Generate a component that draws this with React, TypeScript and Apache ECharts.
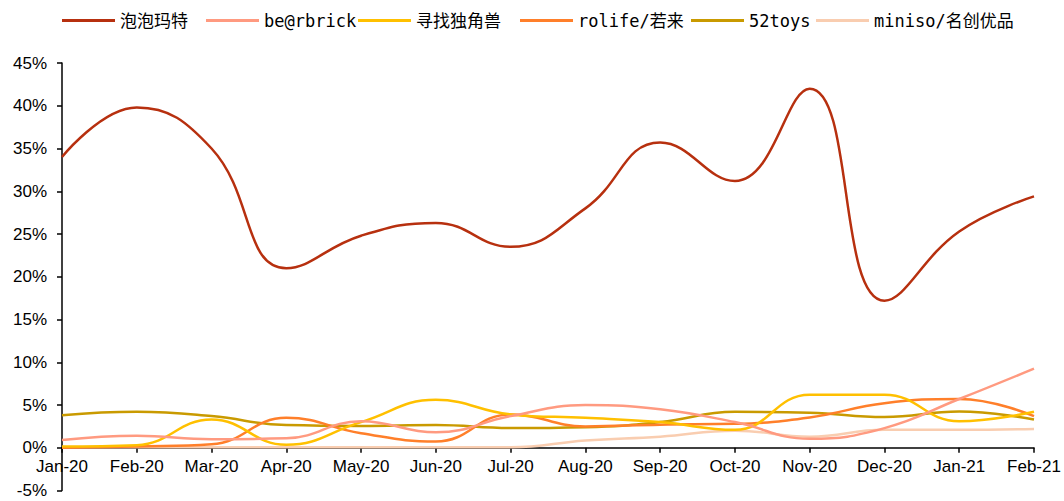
import React, { useEffect, useRef } from "react";
import * as echarts from "echarts";

const categories = ["Jan-20","Feb-20","Mar-20","Apr-20","May-20","Jun-20","Jul-20","Aug-20","Sep-20","Oct-20","Nov-20","Dec-20","Jan-21","Feb-21"];

const seriesNames = ["泡泡玛特", "be@rbrick", "寻找独角兽", "rolife/若来", "52toys", "miniso/名创优品"];

const popmart = [34.0, 39.8, 35.0, 21.0, 24.8, 26.3, 23.5, 28.0, 35.7, 31.2, 42.0, 17.2, 25.3, 29.4];
const bearbrick = [0.9, 1.4, 1.0, 1.1, 3.1, 1.8, 3.7, 5.0, 4.5, 3.0, 1.05, 2.3, 5.7, 9.25];
const unicorn = [0.15, 0.3, 3.3, 0.35, 3.0, 5.6, 3.9, 3.5, 3.0, 2.1, 6.2, 6.2, 3.1, 4.2];
const rolife = [0.0, 0.15, 0.4, 3.5, 1.7, 0.73, 3.9, 2.5, 2.7, 2.8, 3.55, 5.2, 5.7, 3.7];
const toys52 = [3.8, 4.2, 3.7, 2.65, 2.55, 2.65, 2.3, 2.4, 3.0, 4.2, 4.1, 3.6, 4.25, 3.3];
const miniso = [0.05, 0.05, 0.05, 0.05, 0.05, 0.05, 0.05, 0.86, 1.3, 2.0, 1.3, 2.1, 2.1, 2.2];

const seriesValues = [popmart, bearbrick, unicorn, rolife, toys52, miniso];
const colors = ["#B7300F", "#FF9A80", "#FFC000", "#FF7F2A", "#C99A00", "#F9CDB0"];
const legendLeft = [57, 201, 353, 515, 686, 811];

const Y_MIN = -5;
const Y_MAX = 45;
const GRID_TOP = 63;
const GRID_BOTTOM = 10.5;
const HEIGHT = 501;

export default function App() {
  const ref = useRef<HTMLDivElement>(null);
  useEffect(() => {
    if (!ref.current) return;
    const chart = echarts.init(ref.current, undefined, { renderer: "svg" });
    const axisFont = "'Liberation Sans', Arial, sans-serif";
    const plotH = HEIGHT - GRID_TOP - GRID_BOTTOM;
    const zeroOffset = -((0 - Y_MIN) / (Y_MAX - Y_MIN)) * plotH;
    chart.setOption({
      animation: false,
      backgroundColor: "#fff",
      legend: seriesNames.map((n, i) => ({
        data: [n],
        left: legendLeft[i],
        top: 7,
        icon: "rect",
        itemWidth: 53,
        itemHeight: 3,
        itemGap: 6,
        textStyle: {
          fontSize: 17,
          color: "#000",
          fontFamily: "'DejaVu Sans Mono', 'Noto Sans CJK SC', monospace",
        },
      })),
      grid: { left: 62, right: 30, top: GRID_TOP, bottom: GRID_BOTTOM, containLabel: false, outerBoundsMode: "none" },
      xAxis: {
        type: "category",
        data: categories,
        boundaryGap: false,
        offset: zeroOffset,
        axisLine: { onZero: false, lineStyle: { color: "#000", width: 1.5 } },
        axisTick: { show: true, length: 5, lineStyle: { color: "#000", width: 1.5 } },
        axisLabel: { color: "#000", fontSize: 17, fontFamily: axisFont, margin: 10, interval: 0 },
        splitLine: { show: false },
      },
      yAxis: {
        type: "value",
        min: Y_MIN,
        max: Y_MAX,
        interval: 5,
        axisLine: { show: true, lineStyle: { color: "#000", width: 1.5 } },
        axisTick: { show: true, length: 5, lineStyle: { color: "#000", width: 1.5 } },
        axisLabel: { color: "#000", fontSize: 17, fontFamily: axisFont, margin: 15, formatter: "{value}%" },
        splitLine: { show: false },
      },
      series: seriesNames.map((n, i) => ({
        name: n,
        type: "line",
        data: seriesValues[i],
        smooth: 0.45,
        showSymbol: false,
        symbol: "none",
        color: colors[i],
        lineStyle: { width: 2.5, color: colors[i] },
        z: 10 - i,
      })),
    });
    return () => chart.dispose();
  }, []);
  return <div ref={ref} style={{ position: "fixed", left: 0, top: 0, width: 1064, height: 501 }} />;
}
